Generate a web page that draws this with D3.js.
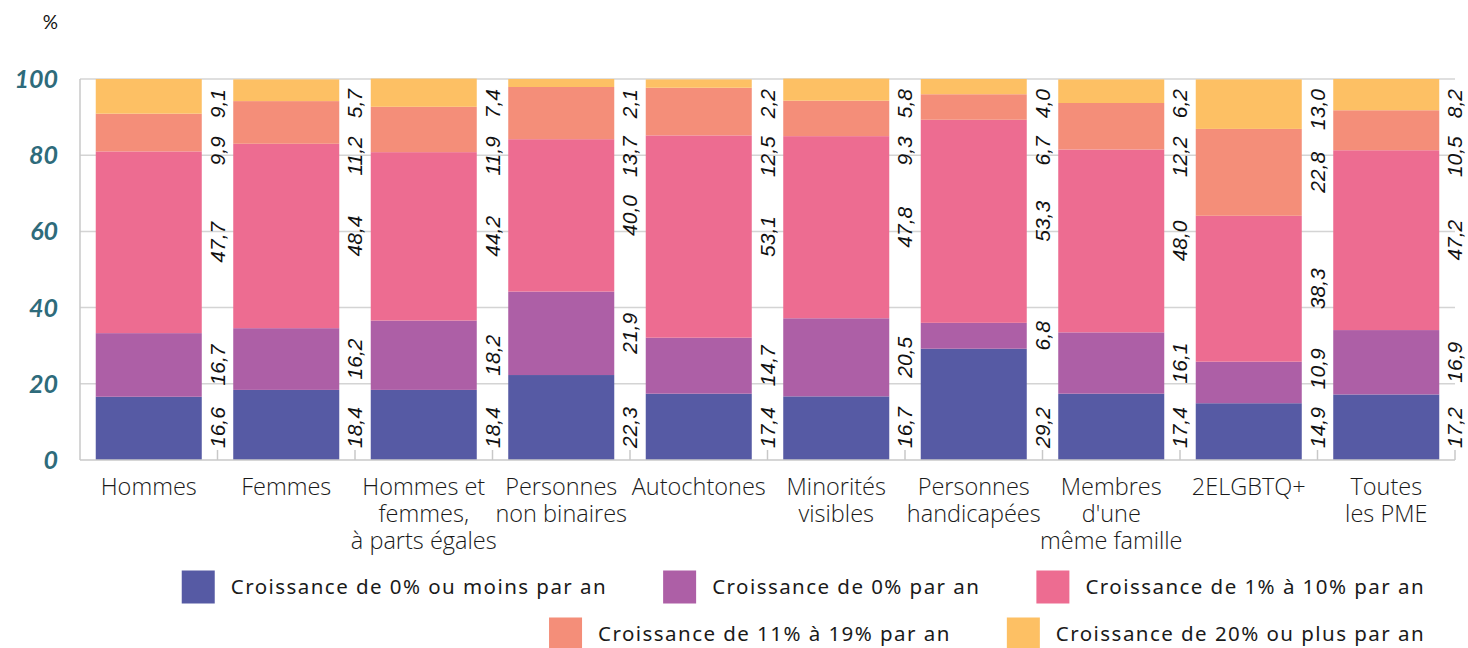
<!DOCTYPE html>
<html lang="fr">
<head>
    <meta charset="UTF-8">
    <title>Croissance des PME</title>
    <script src="https://d3js.org/d3.v7.min.js"></script>
    <style>
        body {
            margin: 0;
            background: #fff;
        }
        svg {
            display: block;
        }
        .grid line {
            stroke: #d4d4d4;
            stroke-width: 1.5px;
        }
        .ytick {
            font-family: Lato, sans-serif;
            font-style: italic;
            font-weight: 700;
            font-size: 25px;
            fill: #2e6b7b;
        }
        .xlab {
            font-family: "Open Sans", sans-serif;
            font-weight: 300;
            font-size: 23.5px;
            fill: #1a1a1a;
        }
        .val {
            font-family: "Liberation Sans", Arial, sans-serif;
            font-style: italic;
            font-size: 21px;
            fill: #111;
        }
        .legend text {
            font-family: "Noto Sans", sans-serif;
            font-size: 20.5px;
            letter-spacing: 1.45px;
            fill: #1a1a1a;
        }
    </style>
</head>
<body>
    <svg id="chart" width="1468" height="648"></svg>
    <script>
        // categories (one entry per line of the label)
        var categories = [
            ["Hommes"],
            ["Femmes"],
            ["Hommes et", "femmes,", "à parts égales"],
            ["Personnes", "non binaires"],
            ["Autochtones"],
            ["Minorités", "visibles"],
            ["Personnes", "handicapées"],
            ["Membres", "d'une", "même famille"],
            ["2ELGBTQ+"],
            ["Toutes", "les PME"]
        ];

        var seriesNames = [
            "Croissance de 0% ou moins par an",
            "Croissance de 0% par an",
            "Croissance de 1% à 10% par an",
            "Croissance de 11% à 19% par an",
            "Croissance de 20% ou plus par an"
        ];

        var seriesColors = ["#565aa4", "#ad5fa6", "#ed6c91", "#f48e79", "#fdc064"];

        // values in %, one array per series
        var negOrZero  = [16.6, 18.4, 18.4, 22.3, 17.4, 16.7, 29.2, 17.4, 14.9, 17.2];
        var zeroGrowth = [16.7, 16.2, 18.2, 21.9, 14.7, 20.5, 6.8, 16.1, 10.9, 16.9];
        var growth1to10 = [47.7, 48.4, 44.2, 40.0, 53.1, 47.8, 53.3, 48.0, 38.3, 47.2];
        var growth11to19 = [9.9, 11.2, 11.9, 13.7, 12.5, 9.3, 6.7, 12.2, 22.8, 10.5];
        var growth20plus = [9.1, 5.7, 7.4, 2.1, 2.2, 5.8, 4.0, 6.2, 13.0, 8.2];

        var yTicks = [0, 20, 40, 60, 80, 100];

        var series = [negOrZero, zeroGrowth, growth1to10, growth11to19, growth20plus];

        var margin = {top: 79, right: 13, bottom: 188, left: 80},
            width = 1468 - margin.left - margin.right,
            height = 648 - margin.top - margin.bottom;

        var svg = d3.select("#chart")
          .append("g")
            .attr("transform", "translate(" + margin.left + "," + margin.top + ")");

        // outer padding = half the inner one, so the last gap ends on the right edge
        var x = d3.scaleBand()
            .domain(d3.range(categories.length))
            .range([0, width])
            .paddingInner(0.229)
            .paddingOuter(0.1145);

        var y = d3.scaleLinear().domain([0, 100]).range([height, 0]);

        // stacked table built from the arrays
        var table = categories.map(function(c, i) {
            var row = {i: i};
            series.forEach(function(s, k) { row["s" + k] = s[i]; });
            return row;
        });
        var keys = series.map(function(s, k) { return "s" + k; });
        var stacked = d3.stack().keys(keys)(table);

        // gridlines
        svg.append("g")
            .attr("class", "grid")
          .selectAll("line")
            .data(yTicks.slice(1))
          .enter().append("line")
            .attr("x1", 0)
            .attr("x2", width)
            .attr("y1", function(d) { return y(d); })
            .attr("y2", function(d) { return y(d); });

        // left axis line
        svg.append("line")
            .attr("x1", 0).attr("x2", 0)
            .attr("y1", 0).attr("y2", height)
            .attr("stroke", "#c8c8c8").attr("stroke-width", 1.5);

        // y tick labels
        svg.selectAll(".ytick")
            .data(yTicks)
          .enter().append("text")
            .attr("class", "ytick")
            .attr("x", -22)
            .attr("y", function(d) { return y(d); })
            .attr("dy", "0.36em")
            .attr("text-anchor", "end")
            .text(function(d) { return d; });

        svg.append("text")
            .attr("x", -22)
            .attr("y", -50)
            .attr("text-anchor", "end")
            .style("font-family", "Lato, sans-serif")
            .style("font-size", "19px")
            .style("fill", "#111")
            .text("%");

        // bars
        svg.selectAll(".layer")
            .data(stacked)
          .enter().append("g")
            .attr("class", "layer")
            .attr("fill", function(d, k) { return seriesColors[k]; })
          .selectAll("rect")
            .data(function(d) { return d; })
          .enter().append("rect")
            .attr("x", function(d) { return x(d.data.i); })
            .attr("width", x.bandwidth())
            .attr("y", function(d) { return y(d[1]); })
            .attr("height", function(d) { return y(d[0]) - y(d[1]); });

        // bottom axis with small ticks in each gap
        var step = x.step();
        function gapCentre(i) { return x(i) + x.bandwidth() + (step - x.bandwidth()) / 2; }

        svg.append("line")
            .attr("x1", 0).attr("x2", width)
            .attr("y1", height).attr("y2", height)
            .attr("stroke", "#c8c8c8").attr("stroke-width", 1.5);

        svg.selectAll(".edgetick")
            .data(categories)
          .enter().append("line")
            .attr("class", "edgetick")
            .attr("x1", function(d, i) { return gapCentre(i); })
            .attr("x2", function(d, i) { return gapCentre(i); })
            .attr("y1", height)
            .attr("y2", height - 10)
            .attr("stroke", "#c8c8c8").attr("stroke-width", 1.5);

        // value labels, rotated, in the white gap right of each bar
        var gap = 18;
        categories.forEach(function(c, i) {
            var cx = gapCentre(i);
            var items = stacked.map(function(layer) {
                var d = layer[i];
                return {v: d[1] - d[0], mid: y((d[0] + d[1]) / 2)};
            });
            var g = svg.append("g");
            var nodes = items.map(function(it) {
                return g.append("text")
                    .attr("class", "val")
                    .attr("text-anchor", "middle")
                    .attr("dy", "0.35em")
                    .text(it.v.toFixed(1).replace(".", ","));
            });
            var lens = nodes.map(function(n) { return n.node().getComputedTextLength(); });
            var tops = items.map(function(it, k) { return it.mid - lens[k] / 2; });
            // first label sits at the bottom of the column
            tops[0] = height - 12 - lens[0];
            // push down from the top so labels do not collide
            var prevBottom = 10;
            for (var k = items.length - 1; k >= 1; k--) {
                tops[k] = Math.max(tops[k], prevBottom);
                prevBottom = tops[k] + lens[k] + gap;
            }
            // then push up from the bottom label
            for (var k2 = 1; k2 < items.length; k2++) {
                tops[k2] = Math.min(tops[k2], tops[k2 - 1] - gap - lens[k2]);
            }
            nodes.forEach(function(n, k) {
                n.attr("transform", "translate(" + cx + "," + (tops[k] + lens[k] / 2) + ") rotate(-90)");
            });
        });

        // category labels
        svg.selectAll(".xlab")
            .data(categories)
          .enter().append("text")
            .attr("class", "xlab")
            .attr("text-anchor", "middle")
            .attr("transform", function(d, i) {
                return "translate(" + (x(i) + x.bandwidth() / 2) + "," + (height + 35) + ")";
            })
          .selectAll("tspan")
            .data(function(d) { return d; })
          .enter().append("tspan")
            .attr("x", 0)
            .attr("y", function(d, j) { return j * 27; })
            .text(function(d) { return d; });

        // legend, two rows aligned on the right
        var legendRows = [[0, 1, 2], [3, 4]];
        var legend = d3.select("#chart").append("g").attr("class", "legend");
        var rightEdge = 1425;
        legendRows.forEach(function(row, r) {
            var cy = 587 + r * 47;
            var items = row.map(function(k) {
                var g = legend.append("g");
                g.append("rect")
                    .attr("width", 33).attr("height", 33)
                    .attr("y", cy - 16.5)
                    .attr("fill", seriesColors[k]);
                var t = g.append("text")
                    .attr("x", 49)
                    .attr("y", cy)
                    .attr("dy", "0.35em")
                    .text(seriesNames[k]);
                return {g: g, w: 49 + t.node().getComputedTextLength()};
            });
            var xpos = rightEdge;
            for (var j = items.length - 1; j >= 0; j--) {
                xpos -= items[j].w;
                items[j].g.attr("transform", "translate(" + xpos + ",0)");
                xpos -= 56;
            }
        });
    </script>
</body>
</html>
